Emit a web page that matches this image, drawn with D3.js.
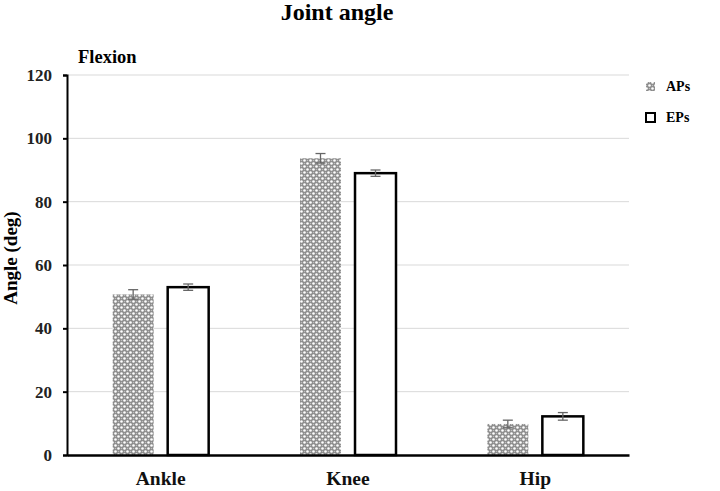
<!DOCTYPE html>
<html><head><meta charset="utf-8">
<script src="https://cdn.jsdelivr.net/npm/d3@7"></script>
<style>body{margin:0;background:#fff}text{font-family:"Liberation Serif","Times New Roman",serif;font-weight:bold}</style>
</head><body>
<svg id="c" width="720" height="491"></svg>
<script>
const categories = ["Ankle", "Knee", "Hip"];
const series = ["APs", "EPs"];
const apsValues = [50.7, 93.7, 9.8];
const apsErrors = [1.5, 1.5, 1.2];
const epsValues = [53.0, 89.0, 12.2];
const epsErrors = [1.0, 1.0, 1.2];
const yTicks = [0, 20, 40, 60, 80, 100, 120];

const svg = d3.select("#c");
const m = {l: 67, r: 629, t: 75, b: 455};
const x = d3.scaleBand().domain(categories).range([m.l, m.r]);
const x1 = d3.scaleBand().domain(series).range([-48, 48]).paddingInner(0.255);
const y = d3.scaleLinear().domain([0, 120]).range([m.b, m.t]);

const defs = svg.append("defs");
const p = defs.append("pattern").attr("id","dots").attr("patternUnits","userSpaceOnUse").attr("width",6).attr("height",6);
p.append("rect").attr("width",6).attr("height",6).attr("fill","#8a8a8a");
p.append("circle").attr("cx",1.5).attr("cy",1.5).attr("r",1.3).attr("fill","#fff");
p.append("circle").attr("cx",4.5).attr("cy",4.5).attr("r",1.3).attr("fill","#fff");
p.append("circle").attr("cx",4.5).attr("cy",1.5).attr("r",0.8).attr("fill","#bdbdbd");
p.append("circle").attr("cx",1.5).attr("cy",4.5).attr("r",0.8).attr("fill","#bdbdbd");

// grid
svg.append("g").selectAll("line").data(yTicks.filter(d=>d>0)).join("line")
  .attr("x1", m.l).attr("x2", m.r).attr("y1", d=>y(d)).attr("y2", d=>y(d))
  .attr("stroke", "#d9d9d9").attr("stroke-width", 1);

const data = [];
categories.forEach((c,i)=>{
  data.push({c, s:"APs", v:apsValues[i], e:apsErrors[i]});
  data.push({c, s:"EPs", v:epsValues[i], e:epsErrors[i]});
});
const cx = d => x(d.c) + x.bandwidth()/2 + x1(d.s);

svg.append("g").selectAll("rect").data(data).join("rect")
  .attr("x", d=>cx(d)).attr("width", x1.bandwidth())
  .attr("y", d=>y(d.v)).attr("height", d=>y(0)-y(d.v))
  .attr("fill", d=>d.s==="APs"?"url(#dots)":"#fff")
  .attr("stroke", d=>d.s==="APs"?"none":"#000")
  .attr("stroke-width", 2.5);

// error bars
const eb = svg.append("g").attr("stroke","#666").attr("stroke-width",1.3);
data.forEach(d=>{
  const xm = cx(d) + x1.bandwidth()/2;
  eb.append("line").attr("x1",xm).attr("x2",xm).attr("y1",y(d.v+d.e)).attr("y2",y(d.v-d.e));
  eb.append("line").attr("x1",xm-5).attr("x2",xm+5).attr("y1",y(d.v+d.e)).attr("y2",y(d.v+d.e));
  eb.append("line").attr("x1",xm-5).attr("x2",xm+5).attr("y1",y(d.v-d.e)).attr("y2",y(d.v-d.e));
});

// y axis
const ya = svg.append("g").attr("transform",`translate(${m.l},0)`)
  .call(d3.axisLeft(y).tickValues(yTicks).tickSize(4).tickPadding(11));
ya.select(".domain").attr("stroke","#000").attr("stroke-width",2);
ya.selectAll(".tick line").attr("stroke","#000").attr("stroke-width",2);
ya.selectAll("text").attr("font-size",17).attr("font-family","Liberation Serif").attr("font-weight","bold").attr("fill","#222");

// x axis
const xa = svg.append("g").attr("transform",`translate(0,${m.b})`)
  .call(d3.axisBottom(x).tickSize(0).tickPadding(16));
xa.select(".domain").attr("stroke","#000").attr("stroke-width",2.5);
xa.selectAll("text").attr("font-size",19.5).attr("font-family","Liberation Serif").attr("font-weight","bold").attr("fill","#111");

svg.append("text").attr("x",337).attr("y",20).attr("text-anchor","middle").attr("font-size",24).text("Joint angle");
svg.append("text").attr("x",78).attr("y",63).attr("font-size",18.5).text("Flexion");
svg.append("text").attr("transform","translate(17,258) rotate(-90)").attr("text-anchor","middle").attr("font-size",19).text("Angle (deg)");

// legend
const lg = svg.append("g");
series.forEach((s,i)=>{
  const ly = 87 + i*31;
  lg.append("rect").attr("x",646).attr("y",ly-5).attr("width",9).attr("height",9)
    .attr("fill", s==="APs"?"url(#dots)":"#fff").attr("stroke", s==="APs"?"none":"#000").attr("stroke-width",2);
  lg.append("text").attr("x",666).attr("y",ly+4).attr("font-size",14).text(s);
});
</script>
</body></html>
